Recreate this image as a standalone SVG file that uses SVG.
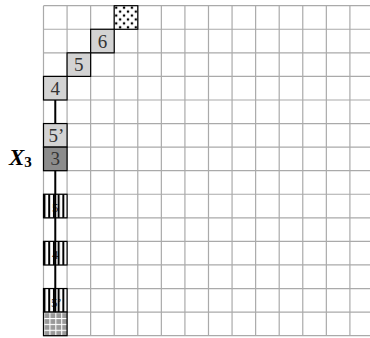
<svg xmlns="http://www.w3.org/2000/svg" width="370" height="338" viewBox="0 0 370 338">
<style>
.grid line{stroke:#aaaaaa;stroke-width:1.2}
.box{stroke:#000;stroke-width:1.2}
.light{fill:#d3d3d3}
.dark{fill:#8c8c8c}
.lbl{font-family:"Liberation Serif","DejaVu Serif",serif;font-size:19px;fill:#333;text-anchor:middle}
.conn{stroke:#000;stroke-width:2;fill:none}
</style>
<defs>
<pattern id="dots" patternUnits="userSpaceOnUse" x="114.21" y="5.7" width="7.857" height="7.857">
<rect width="7.857" height="7.857" fill="#fff"/>
<circle cx="2" cy="2" r="1.3" fill="#000"/>
<circle cx="5.93" cy="5.93" r="1.3" fill="#000"/>
</pattern>
<pattern id="stripes" patternUnits="userSpaceOnUse" x="43.5" y="0" width="4.714" height="10">
<rect x="0" y="0" width="2" height="10" fill="#000"/>
</pattern>
<pattern id="gridfill" patternUnits="userSpaceOnUse" x="43.5" y="312.11" width="5.8925" height="5.8925">
<rect width="5.8925" height="5.8925" fill="#fff"/>
<rect x="1.1" y="1.1" width="4.8" height="4.8" fill="#999"/>
</pattern>
</defs>
<rect width="370" height="338" fill="#fff"/>
<g class="grid" id="grid">
<line x1="43.5" y1="5.7" x2="43.5" y2="335.68"/>
<line x1="67.07" y1="5.7" x2="67.07" y2="335.68"/>
<line x1="90.64" y1="5.7" x2="90.64" y2="335.68"/>
<line x1="114.21" y1="5.7" x2="114.21" y2="335.68"/>
<line x1="137.78" y1="5.7" x2="137.78" y2="335.68"/>
<line x1="161.35" y1="5.7" x2="161.35" y2="335.68"/>
<line x1="184.92" y1="5.7" x2="184.92" y2="335.68"/>
<line x1="208.49" y1="5.7" x2="208.49" y2="335.68"/>
<line x1="232.06" y1="5.7" x2="232.06" y2="335.68"/>
<line x1="255.63" y1="5.7" x2="255.63" y2="335.68"/>
<line x1="279.2" y1="5.7" x2="279.2" y2="335.68"/>
<line x1="302.77" y1="5.7" x2="302.77" y2="335.68"/>
<line x1="326.34" y1="5.7" x2="326.34" y2="335.68"/>
<line x1="349.91" y1="5.7" x2="349.91" y2="335.68"/>
<line x1="43.5" y1="5.7" x2="370" y2="5.7"/>
<line x1="43.5" y1="29.27" x2="370" y2="29.27"/>
<line x1="43.5" y1="52.84" x2="370" y2="52.84"/>
<line x1="43.5" y1="76.41" x2="370" y2="76.41"/>
<line x1="43.5" y1="99.98" x2="370" y2="99.98"/>
<line x1="43.5" y1="123.55" x2="370" y2="123.55"/>
<line x1="43.5" y1="147.12" x2="370" y2="147.12"/>
<line x1="43.5" y1="170.69" x2="370" y2="170.69"/>
<line x1="43.5" y1="194.26" x2="370" y2="194.26"/>
<line x1="43.5" y1="217.83" x2="370" y2="217.83"/>
<line x1="43.5" y1="241.4" x2="370" y2="241.4"/>
<line x1="43.5" y1="264.97" x2="370" y2="264.97"/>
<line x1="43.5" y1="288.54" x2="370" y2="288.54"/>
<line x1="43.5" y1="312.11" x2="370" y2="312.11"/>
<line x1="43.5" y1="335.68" x2="370" y2="335.68"/>
</g>
<g id="node-dots"><rect class="box" x="114.21" y="5.7" width="23.57" height="23.57" fill="url(#dots)"/></g>
<g id="node-6"><rect class="box light" x="90.64" y="29.27" width="23.57" height="23.57"/><text class="lbl" x="102.43" y="47.5">6</text></g>
<g id="node-5"><rect class="box light" x="67.07" y="52.84" width="23.57" height="23.57"/><text class="lbl" x="78.86" y="71.1">5</text></g>
<g id="node-4"><rect class="box light" x="43.5" y="76.41" width="23.57" height="23.57"/><text class="lbl" x="55.28" y="94.6">4</text></g>
<g id="node-5p"><rect class="box light" x="43.5" y="123.55" width="23.57" height="23.57"/><text class="lbl" x="56.3" y="141.8">5’</text></g>
<g id="node-3"><rect class="box dark" x="43.5" y="147.12" width="23.57" height="23.57"/><text class="lbl" x="55.28" y="165.4">3</text></g>
<g id="node-s5"><rect x="43.5" y="194.26" width="23.57" height="23.57" fill="#fff"/><text class="lbl" x="55.28" y="212.3" style="font-size:13px">5</text><rect class="box" x="43.5" y="194.26" width="23.57" height="23.57" fill="url(#stripes)"/></g>
<g id="node-s4"><rect x="43.5" y="241.4" width="23.57" height="23.57" fill="#fff"/><text class="lbl" x="55.28" y="259.4" style="font-size:13px">4</text><rect class="box" x="43.5" y="241.4" width="23.57" height="23.57" fill="url(#stripes)"/></g>
<g id="node-s5p"><rect x="43.5" y="288.54" width="23.57" height="23.57" fill="#fff"/><text class="lbl" x="56.3" y="306.6" style="font-size:13px">5’</text><rect class="box" x="43.5" y="288.54" width="23.57" height="23.57" fill="url(#stripes)"/></g>
<g id="node-grid"><rect class="box" x="43.5" y="312.11" width="23.57" height="23.57" fill="url(#gridfill)"/></g>
<g id="connectors">
<line class="conn" x1="55.28" y1="99.98" x2="55.28" y2="123.55"/>
<line class="conn" x1="55.28" y1="170.69" x2="55.28" y2="312.11"/>
</g>
<g id="label-X3"><text x="9" y="165" style="font-family:'Liberation Serif','DejaVu Serif',serif;font-size:23px;font-style:italic;font-weight:bold;fill:#000">X<tspan dy="2" style="font-size:15px;font-style:normal">3</tspan></text></g>
</svg>
